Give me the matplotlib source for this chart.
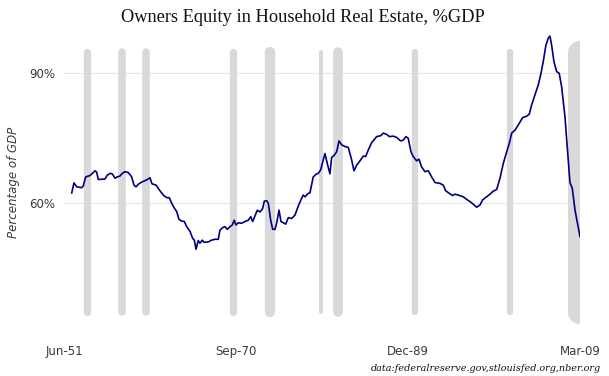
"""
Owners Equity in Household Real Estate as % of GDP, with NBER recessions
"""
import matplotlib
matplotlib.use("Agg")
import matplotlib.pyplot as plt

# quarterly dates (decimal years) and equity as % of GDP
years = [1952.24, 1952.49, 1952.80, 1953.36, 1953.53, 1953.80, 1954.28, 1954.65,
         1954.84, 1955.03, 1955.21, 1955.96, 1956.22, 1956.52, 1956.78, 1957.08,
         1957.34, 1957.64, 1957.90, 1958.20, 1958.57, 1958.95, 1959.21, 1959.43,
         1959.69, 1960.07, 1960.63, 1961.00, 1961.22, 1961.67, 1962.04, 1962.49,
         1962.87, 1963.16, 1963.43, 1963.69, 1963.99, 1964.24, 1964.55, 1964.84,
         1965.11, 1965.48, 1965.78, 1965.96, 1966.15, 1966.40, 1966.59, 1966.85,
         1967.04, 1967.52, 1967.90, 1968.27, 1968.64, 1968.83, 1969.13, 1969.39,
         1969.65, 1969.95, 1970.21, 1970.43, 1970.62, 1970.88, 1971.26, 1971.63,
         1972.00, 1972.27, 1972.49, 1972.75, 1973.01, 1973.31, 1973.61, 1973.79,
         1974.06, 1974.24, 1974.51, 1974.73, 1974.99, 1975.18, 1975.44, 1975.66,
         1975.92, 1976.19, 1976.48, 1976.86, 1977.23, 1977.60, 1977.98, 1978.15,
         1978.35, 1978.71, 1978.90, 1979.27, 1979.58, 1979.83, 1980.10, 1980.58,
         1980.84, 1981.14, 1981.33, 1981.62, 1981.89, 1982.15, 1982.45, 1982.82,
         1983.19, 1983.57, 1983.83, 1984.13, 1984.50, 1984.87, 1985.14, 1985.43,
         1985.81, 1986.37, 1986.82, 1987.11, 1987.49, 1987.78, 1988.23, 1988.61,
         1989.05, 1989.35, 1989.65, 1989.90, 1990.21, 1990.46, 1990.84, 1991.10,
         1991.40, 1991.77, 1992.14, 1992.52, 1992.89, 1993.45, 1993.82, 1994.09,
         1994.49, 1994.87, 1995.13, 1995.50, 1996.06, 1996.44, 1996.81, 1997.18,
         1997.56, 1997.93, 1998.23, 1998.68, 1999.05, 1999.35, 1999.80, 2000.17,
         2000.54, 2000.92, 2001.21, 2001.48, 2001.85, 2002.22, 2002.71, 2003.16,
         2003.45, 2003.71, 2004.08, 2004.45, 2004.72, 2005.01, 2005.31, 2005.57,
         2005.76, 2005.95, 2006.21, 2006.51, 2006.80, 2007.07, 2007.44, 2007.74,
         2008.00, 2008.26, 2008.56, 2009.125]
equity_pct = [62.4, 64.7, 63.8, 63.6, 64.0, 66.1, 66.4, 67.1,
              67.5, 67.2, 65.5, 65.6, 66.5, 66.9, 66.8, 65.8,
              66.1, 66.3, 66.9, 67.3, 67.1, 66.1, 64.2, 63.8,
              64.4, 64.9, 65.4, 65.9, 64.5, 64.2, 63.1, 61.9,
              61.3, 61.3, 60.0, 59.0, 58.1, 56.3, 55.9, 55.8,
              54.6, 53.5, 51.9, 51.5, 49.4, 51.4, 50.8, 51.5,
              51.0, 51.1, 51.5, 51.7, 51.7, 53.8, 54.4, 54.6,
              54.0, 54.6, 55.0, 56.1, 55.0, 55.5, 55.4, 55.8,
              56.1, 56.9, 55.8, 57.1, 58.4, 58.0, 58.8, 60.5,
              60.6, 60.0, 56.1, 54.0, 54.0, 55.5, 58.4, 55.8,
              55.5, 55.2, 56.7, 56.5, 57.3, 59.4, 61.2, 61.9,
              61.5, 62.3, 62.4, 66.1, 66.7, 66.9, 67.7, 71.5,
              69.2, 66.8, 70.6, 71.1, 71.9, 74.4, 73.5, 73.1,
              72.9, 70.0, 67.5, 68.8, 69.8, 70.9, 70.8, 72.3,
              74.0, 75.4, 75.6, 76.2, 75.9, 75.4, 75.5, 75.2,
              74.4, 74.6, 75.4, 75.0, 71.9, 70.8, 69.8, 70.2,
              68.4, 67.3, 67.5, 66.1, 64.8, 64.6, 64.2, 62.9,
              62.3, 61.8, 62.1, 61.9, 61.5, 60.9, 60.4, 59.8,
              59.1, 59.6, 60.8, 61.5, 62.1, 62.7, 63.2, 65.8,
              69.2, 71.9, 73.8, 76.2, 76.9, 78.1, 79.8, 80.1,
              80.6, 82.7, 85.0, 87.3, 89.6, 92.7, 96.5, 98.1,
              98.6, 96.5, 92.7, 90.4, 90.0, 86.9, 80.0, 71.9,
              64.8, 63.5, 58.5, 52.3]

# NBER recessions: midpoint (decimal year)
recession_mid = [1953.9, 1957.9, 1960.6, 1970.3, 1974.4,
                 1980.1, 1982.0, 1990.7, 2001.3, 2009.0]
recession_months = [10, 8, 10, 11, 16, 6, 16, 8, 8, 18]

tick_years = [1951.375, 1970.625, 1989.875, 2009.125]
tick_labels = ["Jun-51", "Sep-70", "Dec-89", "Mar-09"]
y_ticks = [60, 90]
y_tick_labels = ["60%", "90%"]

# recession bar widths in pixels (visual only)
bar_px = [7.3, 7.6, 7.6, 7.3, 10.3, 4.0, 9.7, 6.3, 6.3, 23.0]

W, H = 609, 376
DPI = 100


def main():
    fig = plt.figure(figsize=(W / DPI, H / DPI), dpi=DPI)
    ax = fig.add_axes([64 / W, (H - 330) / H, 516 / W, 300 / H])

    # recession bars: thick vertical lines with round caps
    for mid, px in zip(recession_mid, bar_px):
        ax.plot([mid, mid], [35, 95], color="#d9d9d9", linewidth=px * 72 / DPI,
                solid_capstyle="round", zorder=1)

    ax.plot(years, equity_pct, color="#000080", linewidth=1.2, zorder=3)

    for v in y_ticks:
        ax.axhline(v, color="#e6e6e6", linewidth=0.8, zorder=0)

    ax.set_xlim(tick_years[0], tick_years[-1])
    ax.set_ylim(30.76, 100.0)

    ax.set_xticks(tick_years)
    ax.set_xticklabels(tick_labels)
    ax.set_yticks(y_ticks)
    ax.set_yticklabels(y_tick_labels)
    ax.tick_params(length=0, labelsize=8.5, labelcolor="#3a3a3a")
    ax.tick_params(axis="x", pad=11)
    ax.tick_params(axis="y", pad=6.5)
    for s in ax.spines.values():
        s.set_visible(False)

    fig.text(13 / W, 1 - 182 / H, "Percentage of GDP", rotation=90,
             ha="center", va="center", fontsize=8.5, style="italic",
             color="#3a3a3a")

    fig.text(302.7 / W, 1 - 22 / H, "Owners Equity in Household Real Estate, %GDP",
             ha="center", va="baseline", fontsize=13.2,
             family="Liberation Serif", color="#111111")

    fig.text(601 / W, 1 - 371 / H, "data:federalreserve.gov,stlouisfed.org,nber.org",
             ha="right", va="baseline", fontsize=6.9, style="italic",
             family="DejaVu Serif", color="#111111")

    fig.savefig("out.png", dpi=DPI)


if __name__ == "__main__":
    main()
